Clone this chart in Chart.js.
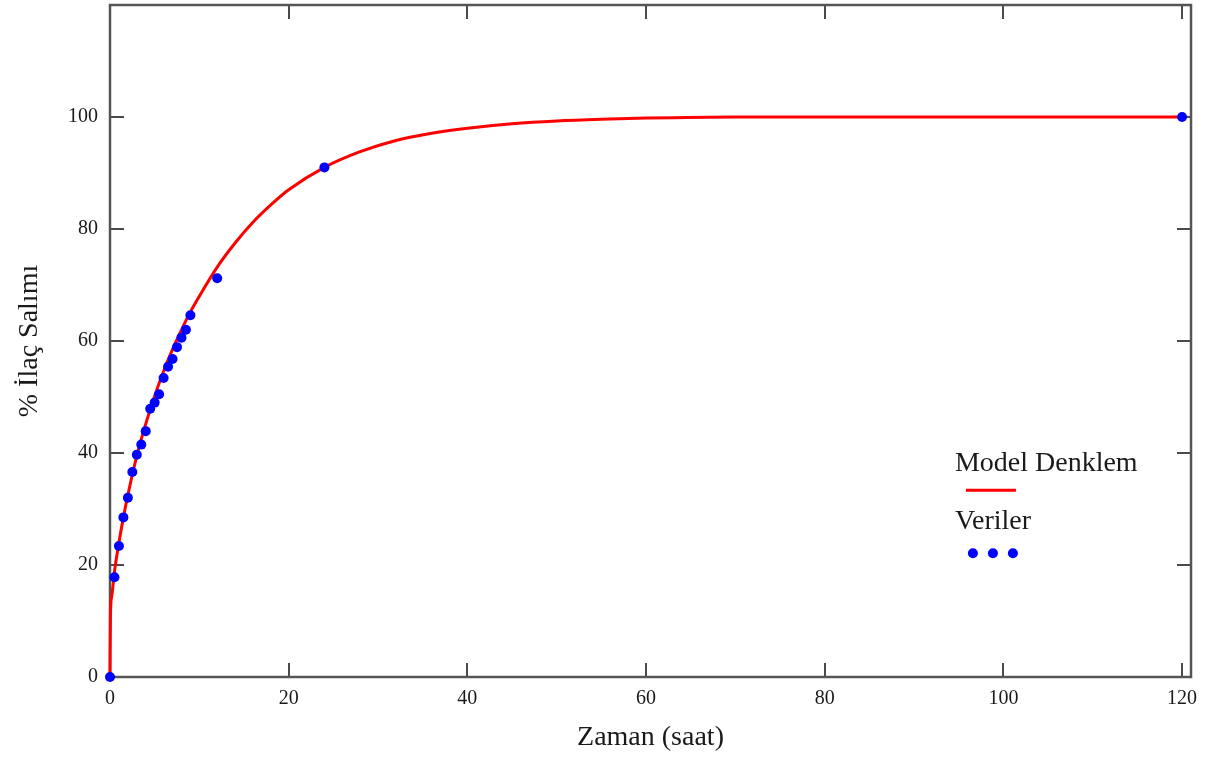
<!DOCTYPE html>
<html>
<head>
<meta charset="utf-8">
<script src="https://cdn.jsdelivr.net/npm/chart.js@4"></script>
<style>
  html, body { margin: 0; padding: 0; background: #fff; }
  #wrap { width: 1221px; height: 758px; }
</style>
</head>
<body>
<div id="wrap"><canvas id="releaseChart" width="1221" height="758"></canvas></div>
<script>
// Veriler (olculen noktalar)
var dataTime = [0, 0.5, 1, 1.5, 2, 2.5, 3, 3.5, 4, 4.5, 5, 5.5, 6, 6.5, 7, 7.5, 8, 8.5, 9, 12, 24, 120];
var dataRelease = [0, 17.8, 23.4, 28.5, 32.0, 36.6, 39.7, 41.5, 43.9, 47.9, 49.0, 50.5, 53.4, 55.4, 56.8, 58.9, 60.6, 62.0, 64.6, 71.2, 91.0, 100];

// Model Denklem egrisi
var modelTime = [0, 0.05, 0.2, 0.5, 1, 1.5, 2, 3, 4, 5, 6, 7, 8, 9, 10, 12, 14, 16, 18, 20, 24, 28, 32, 36, 40, 45, 50, 55, 60, 70, 80, 100, 120];
var modelRelease = [0, 11, 14.5, 18.8, 24, 28.5, 32.5, 39.5, 45.2, 50.2, 54.6, 58.5, 62, 65.2, 68, 73.2, 77.5, 81.2, 84.3, 87, 91, 93.8, 95.8, 97.1, 98, 98.8, 99.3, 99.6, 99.8, 100, 100, 100, 100];

var xTicks = [0, 20, 40, 60, 80, 100, 120];
var yTicks = [0, 20, 40, 60, 80, 100];

var serif = '"Liberation Serif", "Times New Roman", serif';

// cerceve ve iceri bakan tik cizgileri
var framePlugin = {
    id: 'frame',
    beforeDatasetsDraw: function(chart) {
        var ctx = chart.ctx, a = chart.chartArea;
        var xs = chart.scales.x, ys = chart.scales.y;
        var len = 14;
        ctx.save();
        ctx.strokeStyle = '#4a4a4a';
        ctx.lineWidth = 2;
        ctx.beginPath();
        xs.ticks.forEach(function(t) {
            var px = Math.round(xs.getPixelForValue(t.value));
            ctx.moveTo(px, a.bottom); ctx.lineTo(px, a.bottom - len);
            ctx.moveTo(px, a.top); ctx.lineTo(px, a.top + len);
        });
        ys.ticks.forEach(function(t) {
            var py = Math.round(ys.getPixelForValue(t.value));
            ctx.moveTo(a.left, py); ctx.lineTo(a.left + len, py);
            ctx.moveTo(a.right, py); ctx.lineTo(a.right - len, py);
        });
        ctx.stroke();
        ctx.lineWidth = 2.5;
        ctx.strokeStyle = '#555';
        ctx.strokeRect(a.left, a.top, a.right - a.left, a.bottom - a.top);
        ctx.restore();
    }
};

// sag ortadaki gosterge
var legendPlugin = {
    id: 'innerLegend',
    afterDraw: function(chart) {
        var ctx = chart.ctx, a = chart.chartArea;
        var lx = a.left + (a.right - a.left) * 0.7816;
        var top = a.top + (a.bottom - a.top) * 0.682;
        var ds = chart.data.datasets;
        ctx.save();
        ctx.fillStyle = '#1a1a1a';
        ctx.font = '28px ' + serif;
        ctx.textBaseline = 'middle';
        ctx.textAlign = 'left';
        ctx.fillText(ds[0].label, lx, top);
        ctx.strokeStyle = ds[0].borderColor;
        ctx.lineWidth = 3;
        ctx.beginPath();
        ctx.moveTo(lx + 11, top + 27);
        ctx.lineTo(lx + 61, top + 27);
        ctx.stroke();
        ctx.fillStyle = '#1a1a1a';
        ctx.fillText(ds[1].label, lx, top + 58);
        ctx.fillStyle = ds[1].pointBackgroundColor;
        [18, 38, 58].forEach(function(dx) {
            ctx.beginPath();
            ctx.arc(lx + dx, top + 90, 5, 0, Math.PI * 2);
            ctx.fill();
        });
        ctx.restore();
    }
};

var ctx = document.getElementById('releaseChart').getContext('2d');
var releaseChart = new Chart(ctx, {
    type: 'scatter',
    data: {
        datasets: [{
            label: 'Model Denklem',
            type: 'line',
            data: modelTime.map(function(t, i) { return { x: t, y: modelRelease[i] }; }),
            borderColor: '#ff0000',
            borderWidth: 3,
            pointRadius: 0,
            cubicInterpolationMode: 'monotone',
            fill: false,
            clip: false,
            order: 2
        }, {
            label: 'Veriler',
            data: dataTime.map(function(t, i) { return { x: t, y: dataRelease[i] }; }),
            pointBackgroundColor: '#0000ff',
            pointBorderColor: '#0000ff',
            pointRadius: 5,
            pointBorderWidth: 0,
            showLine: false,
            clip: false,
            order: 1
        }]
    },
    options: {
        responsive: false,
        animation: false,
        layout: { padding: { top: 5, right: 30, left: 0, bottom: 0 } },
        plugins: {
            legend: { display: false },
            tooltip: { enabled: false }
        },
        scales: {
            x: {
                type: 'linear',
                min: 0,
                max: 121,
                afterBuildTicks: function(s) { s.ticks = xTicks.map(function(v) { return { value: v }; }); },
                afterFit: function(s) { s.height = 81; s.paddingLeft = 0; s.paddingRight = 0; },
                grid: { display: false, drawTicks: false },
                border: { display: false },
                ticks: { color: '#1a1a1a', font: { family: serif, size: 20 }, padding: 10, maxRotation: 0 },
                title: { display: true, text: 'Zaman (saat)', color: '#1a1a1a', font: { family: serif, size: 28 }, padding: { top: 0, bottom: 4 } }
            },
            y: {
                type: 'linear',
                min: 0,
                max: 120,
                afterBuildTicks: function(s) { s.ticks = yTicks.map(function(v) { return { value: v }; }); },
                afterFit: function(s) { s.width = 110; s.paddingTop = 0; s.paddingBottom = 0; },
                grid: { display: false, drawTicks: false },
                border: { display: false },
                ticks: { color: '#1a1a1a', font: { family: serif, size: 20 }, padding: 12 },
                title: { display: true, text: '% İlaç Salımı', color: '#1a1a1a', font: { family: serif, size: 28 }, padding: { top: 13, bottom: 0 } }
            }
        }
    },
    plugins: [framePlugin, legendPlugin]
});
</script>
</body>
</html>
